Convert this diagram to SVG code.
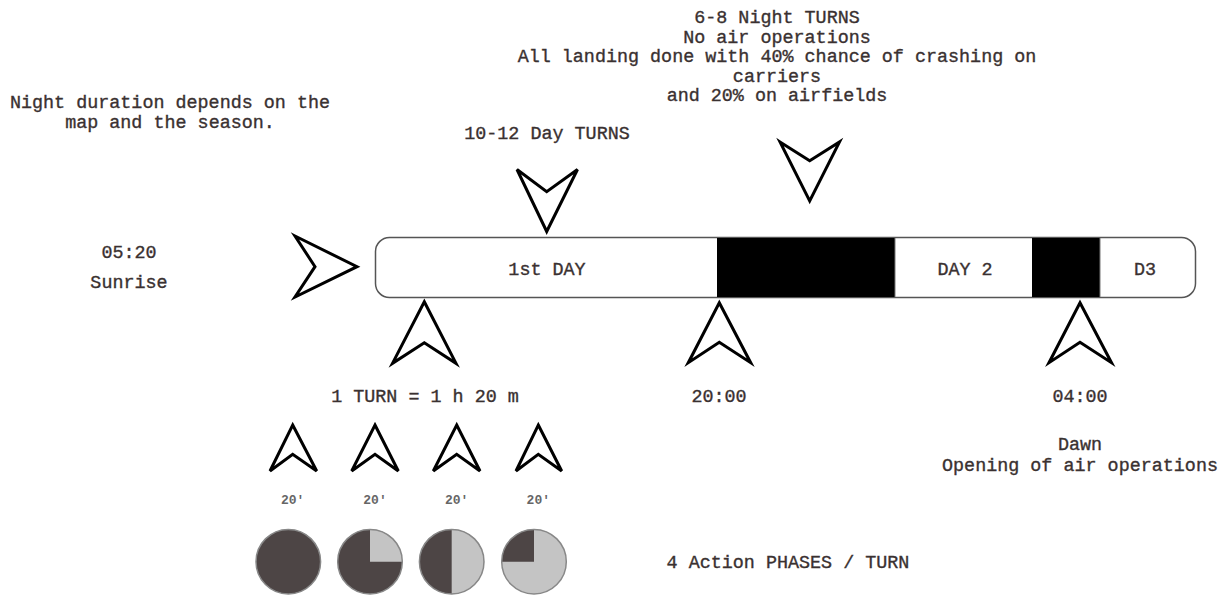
<svg xmlns="http://www.w3.org/2000/svg" width="1227" height="597" viewBox="0 0 1227 597">
<defs>
<style>
.t{font-family:"Liberation Mono","Courier New",monospace;font-size:18.4px;fill:#3a3131;stroke:#3a3131;stroke-width:0.35;text-anchor:middle}
.s{font-family:"Liberation Mono","Courier New",monospace;font-size:13px;font-weight:bold;fill:#666;text-anchor:middle}
.ar{fill:#fff;stroke:#000;stroke-width:3;stroke-linejoin:miter}
.bar{fill:#fff;stroke:#555;stroke-width:1.5}
.blk{fill:#000}
.dark{fill:#4d4545}
.light{fill:#c4c4c4}
.rim{fill:none;stroke:#888;stroke-width:1.5}
</style>
</defs>
<rect width="1227" height="597" fill="#fff"/>

<g id="timeline">
<rect class="bar" x="375.5" y="237.5" width="820" height="60" rx="14"/>
<rect class="blk" x="717" y="238" width="178" height="59"/>
<rect class="blk" x="1032" y="238" width="68" height="59"/>
<line x1="895" y1="238" x2="895" y2="297" stroke="#777" stroke-width="1"/>
<line x1="1100" y1="238" x2="1100" y2="297" stroke="#777" stroke-width="1"/>
<text class="t" x="547" y="275">1st DAY</text>
<text class="t" x="965" y="275">DAY 2</text>
<text class="t" x="1145" y="275">D3</text>
</g>

<g id="notes">
<text class="t" x="777" y="23">6-8 Night TURNS</text>
<text class="t" x="777" y="42.5">No air operations</text>
<text class="t" x="777" y="62">All landing done with 40% chance of crashing on</text>
<text class="t" x="777" y="81.5">carriers</text>
<text class="t" x="777" y="101">and 20% on airfields</text>
<text class="t" x="170" y="108">Night duration depends on the</text>
<text class="t" x="170" y="128">map and the season.</text>
<text class="t" x="547" y="139">10-12 Day TURNS</text>
<text class="t" x="129" y="258">05:20</text>
<text class="t" x="129" y="288">Sunrise</text>
<text class="t" x="425" y="402">1 TURN = 1 h 20 m</text>
<text class="t" x="719" y="402">20:00</text>
<text class="t" x="1080" y="402">04:00</text>
<text class="t" x="1080" y="450">Dawn</text>
<text class="t" x="1080" y="471">Opening of air operations</text>
<text class="t" x="788" y="568">4 Action PHASES / TURN</text>
</g>

<g id="connectors">
<polygon class="ar" points="295,236 357,266.7 295,297 315,266.7"/>
<polygon class="ar" points="517,169.5 546.7,191.7 577.5,169.5 546.7,231.5"/>
<polygon class="ar" points="780,142 809.7,160.7 839.5,142 809.7,201"/>
<polygon class="ar" points="424.3,301.7 456,363.3 424.3,342.7 392.5,363.3"/>
<polygon class="ar" points="719.3,302.7 750.7,362.7 719.3,342.3 688.3,362.7"/>
<polygon class="ar" points="1080,302.7 1111.5,362.7 1080,342.3 1049,362.7"/>
<polygon class="ar" points="292.7,425 316.7,471 292.7,454.3 270,471"/>
<polygon class="ar" points="375,425 398.3,471 375,454.3 351.7,471"/>
<polygon class="ar" points="456.7,425 480,471 456.7,454.3 433.3,471"/>
<polygon class="ar" points="538.3,425 561.7,471 538.3,454.3 516,471"/>
</g>

<g id="phases">
<text class="s" x="292.7" y="504">20'</text>
<text class="s" x="375" y="504">20'</text>
<text class="s" x="456.7" y="504">20'</text>
<text class="s" x="538.3" y="504">20'</text>
<g id="phase1">
<circle class="dark" cx="288.3" cy="561.7" r="32.3"/>
<circle class="rim" cx="288.3" cy="561.7" r="32.3"/>
</g>
<g id="phase2">
<circle class="dark" cx="370" cy="561.7" r="32.3"/>
<path class="light" d="M370,561.7 L370,529.4 A32.3,32.3 0 0 1 402.3,561.7 Z"/>
<circle class="rim" cx="370" cy="561.7" r="32.3"/>
</g>
<g id="phase3">
<circle class="dark" cx="451.7" cy="561.7" r="32.3"/>
<path class="light" d="M451.7,529.4 A32.3,32.3 0 0 1 451.7,594 Z"/>
<circle class="rim" cx="451.7" cy="561.7" r="32.3"/>
</g>
<g id="phase4">
<circle class="light" cx="534" cy="561.7" r="32.3"/>
<path class="dark" d="M534,561.7 L501.7,561.7 A32.3,32.3 0 0 1 534,529.4 Z"/>
<circle class="rim" cx="534" cy="561.7" r="32.3"/>
</g>
</g>
</svg>
